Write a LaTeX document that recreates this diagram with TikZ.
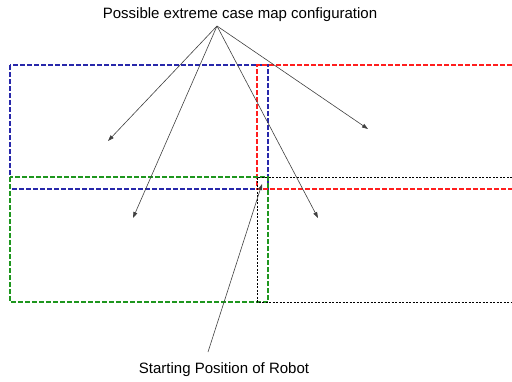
\documentclass[tikz,border=0pt]{standalone}
\usepackage{fontspec}
\setmainfont{Liberation Sans}
\usetikzlibrary{arrows.meta}
\definecolor{mapblue}{RGB}{40,40,170}
\definecolor{mapred}{RGB}{255,30,30}
\definecolor{mapgreen}{RGB}{30,150,30}
\tikzset{
  mapbox/.style={dash pattern=on 5pt off 2pt,line width=1.1pt},
  pointer/.style={draw=black!75,line width=0.6pt,-{Triangle[length=6pt,width=4pt]}}
}
\begin{document}
\begin{tikzpicture}[x=1pt,y=-1pt]
    \useasboundingbox (0,0) rectangle (512,381);
    % map configurations
    \draw[mapbox,draw=mapblue] (10,65) rectangle (268,189);
    \draw[mapbox,draw=mapred] (512,65) -- (257,65) -- (257,189) -- (512,189);
    \draw[mapbox,draw=mapgreen] (10,177) rectangle (268,302);
    \draw[black,dash pattern=on 2pt off 1.5pt,line width=0.8pt]
        (512,177) -- (257,177) -- (257,302) -- (512,302);
    % labels
    \node[font=\fontsize{15}{18}\selectfont] (title) at (240,15) {Possible extreme case map configuration};
    \node[font=\fontsize{15}{18}\selectfont] (start) at (224,370) {Starting Position of Robot};
    \coordinate (apex) at (217,26);
    \coordinate (foot) at (208,352);
    \coordinate (case1) at (108,141);
    \coordinate (case2) at (368,129);
    \coordinate (case3) at (133,218);
    \coordinate (case4) at (318,218);
    \coordinate (robot) at (262,184);
    \foreach \c in {case1,case2,case3,case4}
        \draw[pointer] (apex) -- (\c);
    \draw[pointer] (foot) -- (robot);
\end{tikzpicture}
\end{document}
